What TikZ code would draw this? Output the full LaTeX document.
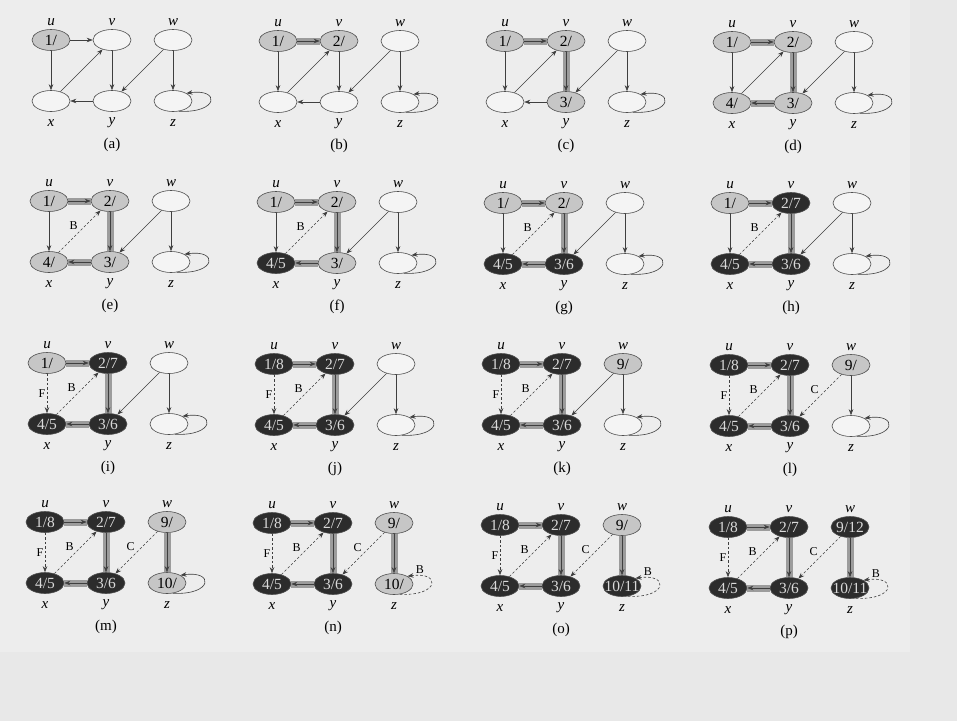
\documentclass[tikz,border=0pt]{standalone}
\usepackage{fontspec}
\setmainfont{Liberation Serif}
\usetikzlibrary{arrows.meta,shapes.geometric}
\definecolor{PageGray}{HTML}{E8E8E8}
\definecolor{ScanGray}{HTML}{EDEDED}
\definecolor{VertexLine}{HTML}{4F4F4F}
\definecolor{VertexWhite}{HTML}{F4F4F4}
\definecolor{VertexGray}{HTML}{C6C6C6}
\definecolor{VertexBlack}{HTML}{2C2C2C}
\definecolor{EdgeInk}{HTML}{3F3F3F}
\definecolor{TreeBand}{HTML}{9C9C9C}

\tikzset{
  vtx/.style={ellipse, draw=VertexLine, line width=0.6pt,
              minimum width=38pt, minimum height=21pt, inner sep=0pt,
              font=\fontsize{15.5}{15.5}\selectfont, node contents={}},
  fresh/.style={vtx, fill=VertexWhite},
  active/.style={vtx, fill=VertexGray},
  act/.style={active, node contents={\makebox[0pt]{#1}}},
  fin/.style={vtx, fill=VertexBlack, text=white!85!black,
              node contents={\makebox[0pt]{#1}}},
  vname/.style={font=\fontsize{15}{15}\selectfont\itshape, inner sep=0pt},
  caption/.style={font=\fontsize{15}{15}\selectfont, inner sep=0pt},
  lbl/.style={font=\fontsize{12}{12}\selectfont, inner sep=1.5pt},
  arc/.style={-{Stealth[length=6pt,width=4.5pt]}, draw=EdgeInk, line width=0.6pt},
  treearc/.style={arc, preaction={draw=TreeBand, line width=7pt, arrows=-}},
  dasharc/.style={arc, dash pattern=on 2.5pt off 2pt},
  labL/.style={dasharc, edge node={node[lbl, auto=left] {#1}}},
  labR/.style={dasharc, edge node={node[lbl, auto=right] {#1}}},
  selfloop/.style={to path={(\tikztostart.-60) .. controls +(40,2) and +(34,-5)
                            .. (\tikztostart.30) \tikztonodes}},
  % vertex and edge looks before the search starts
  nu/.style={fresh}, nv/.style={fresh}, nw/.style={fresh},
  nx/.style={fresh}, ny/.style={fresh}, nz/.style={fresh},
  euv/.style={arc}, eux/.style={arc}, exv/.style={arc}, evy/.style={arc},
  eyx/.style={arc}, ewy/.style={arc}, ewz/.style={arc},
  ezz/.style={arc, selfloop},
  % one stage per panel, each builds on the one before
  st-a/.style={nu/.style={act=1/}},
  st-b/.style={st-a, nv/.style={act=2/}, euv/.style={treearc}},
  st-c/.style={st-b, ny/.style={act=3/}, evy/.style={treearc}},
  st-d/.style={st-c, nx/.style={act=4/}, eyx/.style={treearc}},
  st-e/.style={st-d, exv/.style={labL=B}},
  st-f/.style={st-e, nx/.style={fin=4/5}},
  st-g/.style={st-f, ny/.style={fin=3/6}},
  st-h/.style={st-g, nv/.style={fin=2/7}},
  st-i/.style={st-h, eux/.style={labR=F}},
  st-j/.style={st-i, nu/.style={fin=1/8}},
  st-k/.style={st-j, nw/.style={act=9/}},
  st-l/.style={st-k, ewy/.style={labR=C}},
  st-m/.style={st-l, nz/.style={act=10/}, ewz/.style={treearc}},
  st-n/.style={st-m, ezz/.style={dasharc, selfloop,
                 edge node={node[lbl, pos=0.93, above right=0pt] {B}}}},
  st-o/.style={st-n, nz/.style={fin=10/11}},
  st-p/.style={st-o, nw/.style={fin=9/12}}
}

\newcommand{\dfspanel}[3]{%
  \begin{scope}[shift={(#1)}, #3]
    \node (#2u) at (0,0) [nu];
    \node (#2v) at (61,0) [nv];
    \node (#2w) at (122,0) [nw];
    \node (#2x) at (0,61) [nx];
    \node (#2y) at (61,61) [ny];
    \node (#2z) at (122,61) [nz];
    \node[vname] (#2lu) at (0,-18) {u};
    \node[vname] (#2lv) at (61,-18) {v};
    \node[vname] (#2lw) at (122,-18) {w};
    \node[vname] (#2lx) at (0,83) {x};
    \node[vname] (#2ly) at (61,83) {y};
    \node[vname] (#2lz) at (122,83) {z};
    \path (#2u) edge[euv] (#2v)
          (#2u) edge[eux] (#2x)
          (#2x) edge[exv] (#2v)
          (#2v) edge[evy] (#2y)
          (#2y) edge[eyx] (#2x)
          (#2w) edge[ewy] (#2y)
          (#2w) edge[ewz] (#2z)
          (#2z) edge[ezz] (#2z);
    \node[caption] (#2cap) at (61,105) {(#2)};
  \end{scope}}

\begin{document}
\begin{tikzpicture}[x=1pt, y=-1pt]
\fill[PageGray] (0,0) rectangle (957,721);
\fill[ScanGray] (0,0) rectangle (910,652);

\dfspanel{51,40}{a}{st-a}
\dfspanel{278,41}{b}{st-b}
\dfspanel{505,41}{c}{st-c}
\dfspanel{732,42}{d}{st-d}

\dfspanel{49,201}{e}{st-e}
\dfspanel{276,202}{f}{st-f}
\dfspanel{503,203}{g}{st-g}
\dfspanel{730,203}{h}{st-h}

\dfspanel{47,363}{i}{st-i}
\dfspanel{274,364}{j}{st-j}
\dfspanel{501,364}{k}{st-k}
\dfspanel{729,365}{l}{st-l}

\dfspanel{45,522}{m}{st-m}
\dfspanel{272,523}{n}{st-n}
\dfspanel{500,525}{o}{st-o}
\dfspanel{728,527}{p}{st-p}
\end{tikzpicture}
\end{document}
